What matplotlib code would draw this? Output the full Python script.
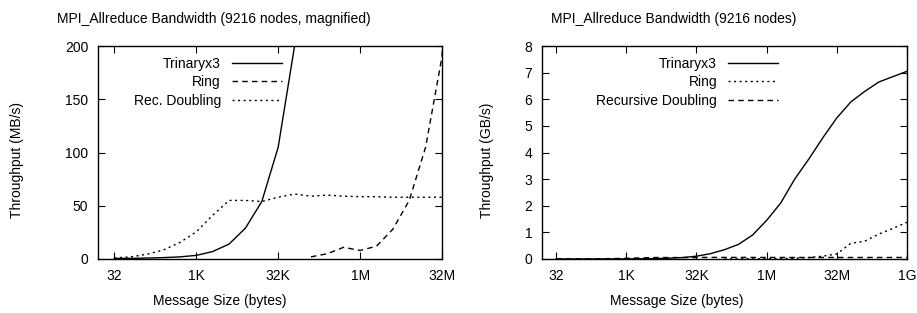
import numpy as np
import matplotlib
matplotlib.use("Agg")
import matplotlib.pyplot as plt

plt.rcParams['font.family'] = ['Liberation Sans', 'DejaVu Sans']
plt.rcParams['font.size'] = 10

# ----- data (MB/s) -----
sizes = [32, 64, 128, 256, 512, 1024, 2048, 4096, 8192, 16384, 32768, 65536,
         131072, 262144, 524288, 1048576, 2097152, 4194304, 8388608, 16777216,
         33554432, 67108864, 134217728, 268435456, 536870912, 1073741824]
trinary = [0.5, 0.6, 0.9, 1.3, 2.0, 3.4, 7, 14, 29, 54, 105, 200,
           350, 550, 900, 1450, 2100, 3000, 3750, 4550,
           5300, 5900, 6300, 6650, 6850, 7050]
ring = [np.nan, np.nan, np.nan, np.nan, np.nan, np.nan, np.nan, np.nan, np.nan, np.nan, np.nan, np.nan,
        2, 5, 11, 8, 12, 28, 55, 105,
        190, 590, 670, 940, 1150, 1380]
recdbl = [1, 2, 4.5, 8.5, 15.5, 25.5, 41, 55, 55, 54, 58, 61,
          59, 60, 59, 58.5, 58.5, 58, 58, 58,
          58, 58, 58, 58, 58, 58]

xticks_left = [32, 1024, 32768, 1048576, 33554432]
xlabels_left = ['32', '1K', '32K', '1M', '32M']
xticks_right = [32, 1024, 32768, 1048576, 33554432, 1073741824]
xlabels_right = ['32', '1K', '32K', '1M', '32M', '1G']

sizes = np.array(sizes, dtype=float)
trinary = np.array(trinary, dtype=float)
ring = np.array(ring, dtype=float)
recdbl = np.array(recdbl, dtype=float)

fig = plt.figure(figsize=(9.17, 3.13), dpi=100)
ax1 = fig.add_axes([98/917, 54/313, 344/917, 213/313])
ax2 = fig.add_axes([542/917, 54/313, 365/917, 213/313])


def style(ax, xt, xl, xmax):
    ax.set_xscale('log', base=2)
    ax.set_xlim(16, xmax)
    ax.set_xticks(xt)
    ax.set_xticklabels(xl)
    ax.minorticks_off()
    ax.tick_params(direction='in', length=5, width=0.8, top=True, right=True, pad=7)
    for s in ax.spines.values():
        s.set_linewidth(1.0)


leg_kw = dict(loc='upper right', frameon=False, markerfirst=False, handlelength=3.6,
              handletextpad=0.8, labelspacing=0.33, borderpad=0, borderaxespad=0)

# left: magnified, MB/s
ax1.plot(sizes, trinary, color='black', lw=1.0, label='Trinaryx3')
ax1.plot(sizes, ring, color='black', lw=1.0, ls=(0, (4, 3)), label='Ring')
ax1.plot(sizes, recdbl, color='black', lw=1.0, ls=(0, (1.5, 2.5)), label='Rec. Doubling')
style(ax1, xticks_left, xlabels_left, 2**25)
ax1.set_ylim(0, 200)
ax1.set_yticks([0, 50, 100, 150, 200])
ax1.legend(bbox_to_anchor=(0.535, 0.95), **leg_kw)

# right: full range, GB/s
ax2.plot(sizes, trinary / 1000, color='black', lw=1.0, label='Trinaryx3')
ax2.plot(sizes, ring / 1000, color='black', lw=1.0, ls=(0, (1.5, 2.5)), label='Ring')
ax2.plot(sizes, recdbl / 1000, color='black', lw=1.0, ls=(0, (4, 3)), label='Recursive Doubling')
style(ax2, xticks_right, xlabels_right, 2**30)
ax2.set_ylim(0, 8)
ax2.set_yticks(range(0, 9))
ax2.legend(bbox_to_anchor=(0.647, 0.95), **leg_kw)

fig.text(214/917, 1 - 19/313, 'MPI_Allreduce Bandwidth (9216 nodes, magnified)', ha='center', va='center')
fig.text(674/917, 1 - 19/313, 'MPI_Allreduce Bandwidth (9216 nodes)', ha='center', va='center')
fig.text(220/917, 12/313, 'Message Size (bytes)', ha='center', va='center')
fig.text(677/917, 12/313, 'Message Size (bytes)', ha='center', va='center')
fig.text(17/917, 153/313, 'Throughput (MB/s)', ha='center', va='center', rotation=90)
fig.text(487/917, 153/313, 'Throughput (GB/s)', ha='center', va='center', rotation=90)

fig.savefig('out.png', dpi=100)
